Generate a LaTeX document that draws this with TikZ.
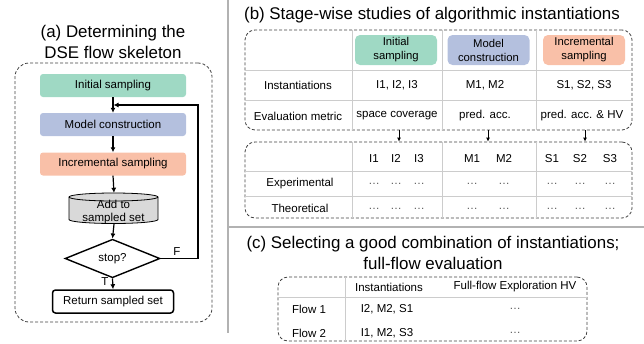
\documentclass[tikz,border=0pt]{standalone}
\usepackage{fontspec}
\setmainfont{Liberation Sans}
\usetikzlibrary{shapes.geometric,arrows.meta}
\definecolor{cgreen}{HTML}{9FD9C4}
\definecolor{cblue}{HTML}{B4C0DE}
\definecolor{corange}{HTML}{F9C0A8}
\definecolor{cgray}{HTML}{D9D9D9}
\begin{document}
\begin{tikzpicture}[x=1pt,y=-1pt,
 title/.style={font=\fontsize{16.9}{21}\selectfont, align=center, inner sep=0pt},
 flowbox/.style={rounded corners=3pt, minimum width=146pt, minimum height=23pt, inner sep=0pt, font=\fontsize{11.5}{13}\selectfont},
 arr/.style={-{Latex[length=5pt,width=5pt]}, line width=1.2pt},
 sarr/.style={-{Latex[length=4pt,width=4pt]}, line width=1pt},
 dbox/.style={draw=black!75, dash pattern=on 3pt off 2pt, line width=0.8pt, rounded corners=10pt, inner sep=0pt},
 gridline/.style={draw=black!20, line width=0.8pt},
 sepline/.style={draw=black!30, line width=1.2pt},
 tt/.style={font=\fontsize{11.5}{13.5}\selectfont, inner sep=0pt, align=center},
 dots/.style={tt, text=black!65},
 hbox/.style={rounded corners=5pt, minimum width=82pt, minimum height=30pt, inner sep=0pt, align=center, font=\fontsize{11.3}{14}\selectfont},
]
\useasboundingbox (0,0) rectangle (644,343);

% separators
\draw[sepline] (228,0) -- (228,333);
\draw[sepline] (228,227) -- (644,227);

% ---------------- panel (a)
\node[title] (ta) at (113,41.5) {(a) Determining the\\DSE flow skeleton};
\node[dbox, rounded corners=14pt, minimum width=197pt, minimum height=259pt] (abox) at (113.5,192.5) {};
\node[flowbox, fill=cgreen] (init) at (113,85.5) {Initial sampling};
\node[flowbox, fill=cblue] (model) at (113,124.5) {Model construction};
\node[flowbox, fill=corange] (incr) at (113,164) {Incremental sampling};
\node[minimum width=90pt, minimum height=31pt, inner sep=0pt] (add) at (114,208.5) {};
\filldraw[fill=cgray, draw=black, line width=0.8pt] (69,197) -- (69,219.5) arc (180:360:44.5pt and 4pt) -- (158,197) arc (0:180:44.5pt and 4pt) -- cycle;
\draw[line width=0.8pt] (69,197) arc (180:360:44.5pt and 4pt);
\node[tt] (addtxt) at (113.5,212) {Add to\\sampled set};
\node[diamond, draw, line width=1.4pt, minimum width=95pt, minimum height=30pt, inner sep=0pt, fill=white, tt] (stop) at (112.5,258.5) {stop?};
\node[draw, line width=1.5pt, rounded corners=3pt, minimum width=121pt, minimum height=23pt, inner sep=0pt, tt] (ret) at (113,301.5) {Return sampled set};
\coordinate (fb) at (198,105);
\draw[arr] (init) -- (model);
\draw[arr] (model) -- (incr);
\draw[arr] (incr.south) -- (add.north);
\draw[arr] (add.south) -- (stop.north);
\draw[arr] (stop.south) -- (ret.north);
\node[tt] (tlab) at (105,282) {T};
\draw[arr, shorten >=0.5pt] (stop.east) -- (fb |- stop.east) -- (fb) -- (init.south |- fb);
\node[tt] (flab) at (177,252) {F};

% ---------------- panel (b)
\node[title] (tb) at (432,15) {(b) Stage-wise studies of algorithmic instantiations};
\node[dbox, minimum width=387pt, minimum height=100pt] (ub) at (438.5,80) {};
\draw[gridline] (245,70) -- (632,70);
\draw[gridline] (245,100) -- (632,100);
\draw[gridline] (352,30) -- (352,130);
\draw[gridline] (442,30) -- (442,130);
\draw[gridline] (536,30) -- (536,130);
\node[hbox, fill=cgreen] (hI) at (396,50) {Initial\\sampling};
\node[hbox, fill=cblue] (hM) at (488.5,50) {Model\\construction};
\node[hbox, fill=corange] (hS) at (584,50) {Incremental\\sampling};
\node[tt] (rInst) at (298,85) {Instantiations};
\node[tt] (rEval) at (298,116) {Evaluation metric};
\node[tt] (vI) at (397,85) {I1, I2, I3};
\node[tt] (vM) at (485,85) {M1, M2};
\node[tt] (vS) at (584,85) {S1, S2, S3};
\node[tt] (eI) at (397,116) {space coverage};
\node[tt] (eM) at (485,116) {pred. acc.};
\node[tt] (eS) at (582,116) {pred. acc. \& HV};

\node[dbox, minimum width=387pt, minimum height=76pt] (lb) at (438.5,180) {};
\draw[gridline] (245,171) -- (632,171);
\draw[gridline] (245,196) -- (632,196);
\draw[gridline] (352,142) -- (352,218);
\draw[gridline] (442,142) -- (442,218);
\draw[gridline] (536,142) -- (536,218);
\coordinate (aI) at (399,0);
\coordinate (aM) at (488,0);
\coordinate (aS) at (585,0);
\draw[sarr] (ub.south -| aI) -- (lb.north -| aI);
\draw[sarr] (ub.south -| aM) -- (lb.north -| aM);
\draw[sarr] (ub.south -| aS) -- (lb.north -| aS);
\node[tt] (rExp) at (300,183.5) {Experimental};
\node[tt] (rThe) at (300,208) {Theoretical};
\foreach \n/\x in {I1/374,I2/396,I3/419,M1/472,M2/504,S1/552,S2/580,S3/610}{
  \node[tt] (h\n) at (\x,158.5) {\n};
  \node[dots] (x\n) at (\x,184) {…};
  \node[dots] (t\n) at (\x,209) {…};
}

% ---------------- panel (c)
\node[title] (tc) at (433,253) {(c) Selecting a good combination of instantiations;\\full-flow evaluation};
\node[dbox, minimum width=309pt, minimum height=64pt] (cb) at (432.5,309) {};
\draw[gridline] (345,277) -- (345,341);
\draw[gridline] (278,297) -- (587,297);
\node[tt] (cInst) at (389,287) {Instantiations};
\node[tt] (cHV) at (515,287) {Full-flow Exploration HV};
\node[tt] (f1) at (309,309) {Flow 1};
\node[tt] (f1i) at (387,309) {I2, M2, S1};
\node[dots] (f1v) at (515,309) {…};
\node[tt] (f2) at (309,333) {Flow 2};
\node[tt] (f2i) at (387,333) {I1, M2, S3};
\node[dots] (f2v) at (515,333) {…};
\end{tikzpicture}
\end{document}
